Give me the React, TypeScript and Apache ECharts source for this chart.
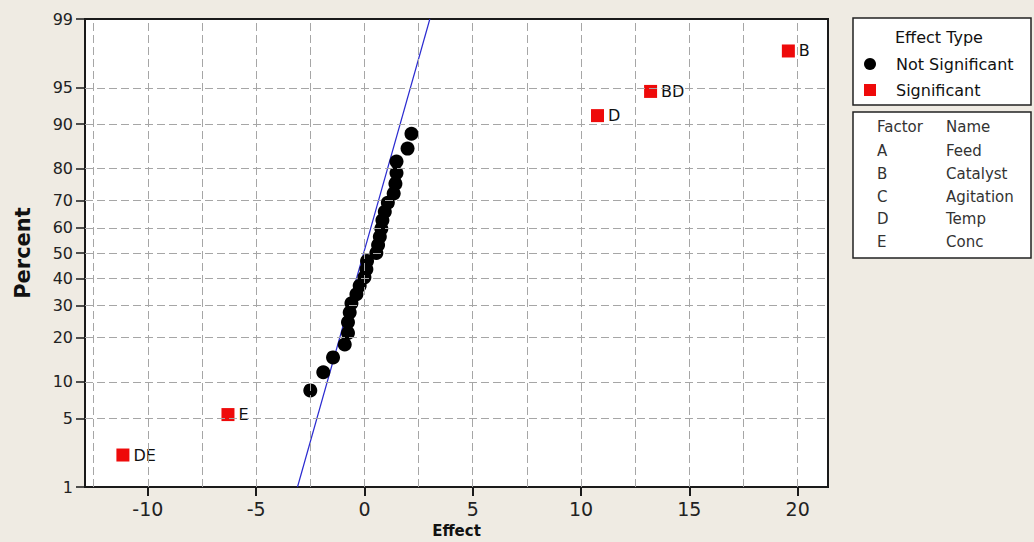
import React, { useEffect, useRef } from "react";
import * as echarts from "echarts";

// ---- data ----
const notSigEffects = [-2.5, -1.9, -1.45, -0.91, -0.76, -0.76, -0.68, -0.6, -0.37, -0.22, 0.0, 0.09, 0.12, 0.55, 0.63, 0.71, 0.78, 0.83, 0.94, 1.08, 1.35, 1.43, 1.48, 1.48, 1.99, 2.17];
const notSigPercents = [8.6, 11.78, 14.97, 18.15, 21.34, 24.52, 27.71, 30.89, 34.08, 37.26, 40.45, 43.63, 46.82, 50.0, 53.18, 56.37, 59.55, 62.74, 65.92, 69.11, 72.29, 75.48, 78.66, 81.85, 85.03, 88.22];
const sigNames = ["DE", "E", "D", "BD", "B"];
const sigEffects = [-11.15, -6.3, 10.76, 13.21, 19.57];
const sigPercents = [2.23, 5.41, 91.4, 94.59, 97.77];
const fitEffects = [-3.09, 3.02];
const fitPercents = [1, 99];
const xTicks = [-10, -5, 0, 5, 10, 15, 20];
const xGrid = [-12.5, -10, -7.5, -5, -2.5, 0, 2.5, 5, 7.5, 10, 12.5, 15, 17.5, 20];
const yTicks = [1, 5, 10, 20, 30, 40, 50, 60, 70, 80, 90, 95, 99];
const yGrid = [5, 10, 20, 30, 40, 50, 60, 70, 80, 90, 95];
const factorCodes = ["A", "B", "C", "D", "E"];
const factorNames = ["Feed", "Catalyst", "Agitation", "Temp", "Conc"];

// inverse normal CDF (probability scale)
function probit(p: number): number {
  const a = [-3.969683028665376e1, 2.209460984245205e2, -2.759285104469687e2, 1.38357751867269e2, -3.066479806614716e1, 2.506628277459239];
  const b = [-5.447609879822406e1, 1.615858368580409e2, -1.556989798598866e2, 6.680131188771972e1, -1.328068155288572e1];
  const c = [-7.784894002430293e-3, -3.223964580411365e-1, -2.400758277161838, -2.549732539343734, 4.374664141464968, 2.938163982698783];
  const d = [7.784695709041462e-3, 3.224671290700398e-1, 2.445134137142996, 3.754408661907416];
  const pl = 0.02425;
  if (p < pl) {
    const q = Math.sqrt(-2 * Math.log(p));
    return (((((c[0] * q + c[1]) * q + c[2]) * q + c[3]) * q + c[4]) * q + c[5]) / ((((d[0] * q + d[1]) * q + d[2]) * q + d[3]) * q + 1);
  }
  if (p <= 1 - pl) {
    const q = p - 0.5;
    const r = q * q;
    return ((((((a[0] * r + a[1]) * r + a[2]) * r + a[3]) * r + a[4]) * r + a[5]) * q) / (((((b[0] * r + b[1]) * r + b[2]) * r + b[3]) * r + b[4]) * r + 1);
  }
  const q = Math.sqrt(-2 * Math.log(1 - p));
  return -(((((c[0] * q + c[1]) * q + c[2]) * q + c[3]) * q + c[4]) * q + c[5]) / ((((d[0] * q + d[1]) * q + d[2]) * q + d[3]) * q + 1);
}
const pz = (pct: number) => probit(pct / 100);

const FONT = "DejaVu Sans";

export default function App() {
  const ref = useRef<HTMLDivElement>(null);
  useEffect(() => {
    if (!ref.current) return;
    const chart = echarts.init(ref.current, undefined, { renderer: "svg" });
    const yTickZ = yTicks.map(pz);
    const gridStyle = { color: "#a6a6a6", width: 1, type: [8, 4] as any };
    const legendTexts: any[] = [];
    legendTexts.push({ type: "text", x: 877, y: 127, style: { text: "Factor", font: `15px ${FONT}`, fill: "#333", verticalAlign: "middle" } });
    legendTexts.push({ type: "text", x: 946, y: 127, style: { text: "Name", font: `15px ${FONT}`, fill: "#333", verticalAlign: "middle" } });
    factorCodes.forEach((code, i) => {
      const yy = 151 + i * 22.8;
      legendTexts.push({ type: "text", x: 877, y: yy, style: { text: code, font: `15px ${FONT}`, fill: "#333", verticalAlign: "middle" } });
      legendTexts.push({ type: "text", x: 946, y: yy, style: { text: factorNames[i], font: `15px ${FONT}`, fill: "#333", verticalAlign: "middle" } });
    });
    chart.setOption({
      animation: false,
      backgroundColor: "#efebe3",
      grid: {
        left: 85,
        right: 206,
        top: 19,
        bottom: 55,
        show: true,
        backgroundColor: "#ffffff",
        borderColor: "#1a1a1a",
        borderWidth: 2,
        containLabel: false,
        outerBoundsMode: "none",
      },
      xAxis: {
        type: "value",
        min: -12.9,
        max: 21.4,
        name: "Effect",
        nameLocation: "middle",
        nameGap: 36,
        nameMoveOverlap: false,
        nameTextStyle: { fontFamily: FONT, fontSize: 15, fontWeight: "bold", color: "#111" },
        axisLine: { show: true, onZero: false, lineStyle: { color: "#1a1a1a", width: 2 } },
        axisTick: { show: true, length: 9, customValues: xTicks, lineStyle: { color: "#1a1a1a", width: 2 } },
        axisLabel: { customValues: xTicks, margin: 12, fontFamily: FONT, fontSize: 19, color: "#222" },
        splitLine: { show: false },
      },
      yAxis: {
        type: "value",
        min: pz(1),
        max: pz(99),
        name: "Percent",
        nameLocation: "middle",
        nameRotate: 90,
        nameGap: 52,
        nameMoveOverlap: false,
        nameTextStyle: { fontFamily: FONT, fontSize: 21, fontWeight: "bold", color: "#111" },
        axisLine: { show: true, onZero: false, lineStyle: { color: "#1a1a1a", width: 2 } },
        axisTick: { show: true, length: 9, customValues: yTickZ, lineStyle: { color: "#1a1a1a", width: 1.5 } },
        axisLabel: {
          customValues: yTickZ,
          margin: 12,
          fontFamily: FONT,
          fontSize: 16,
          color: "#222",
          formatter: (v: number) => {
            let best = 0;
            let bd = Infinity;
            yTickZ.forEach((z, i) => {
              const dd = Math.abs(z - v);
              if (dd < bd) { bd = dd; best = i; }
            });
            return String(yTicks[best]);
          },
        },
        splitLine: { show: false },
      },
      series: [
        {
          type: "line",
          name: "fit",
          data: fitEffects.map((x, i) => [x, pz(fitPercents[i])]),
          symbol: "none",
          z: 2,
          lineStyle: { color: "#2a2ad0", width: 1.2 },
          markLine: {
            silent: true,
            symbol: "none",
            label: { show: false },
            lineStyle: gridStyle,
            data: [
              ...xGrid.map((v) => ({ xAxis: v })),
              ...yGrid.map((p) => ({ yAxis: pz(p) })),
            ],
          },
        },
        {
          type: "scatter",
          name: "Not Significant",
          data: notSigEffects.map((x, i) => [x, pz(notSigPercents[i])]),
          symbol: "circle",
          symbolSize: 14,
          z: 3,
          itemStyle: { color: "#000000", opacity: 1 },
        },
        {
          type: "scatter",
          name: "Significant",
          data: sigEffects.map((x, i) => ({ name: sigNames[i], value: [x, pz(sigPercents[i])] })),
          symbol: "rect",
          symbolSize: 13,
          z: 4,
          itemStyle: { color: "#ee0a0a", opacity: 1 },
          label: {
            show: true,
            position: "right",
            distance: 4,
            formatter: "{b}",
            fontFamily: FONT,
            fontSize: 16,
            color: "#111",
          },
        },
      ],
      graphic: [
        { type: "rect", shape: { x: 853, y: 18, width: 178, height: 87 }, style: { fill: "#fff", stroke: "#222", lineWidth: 1.5 } },
        { type: "text", x: 895, y: 37, style: { text: "Effect Type", font: `16px ${FONT}`, fill: "#111", verticalAlign: "middle" } },
        { type: "circle", shape: { cx: 870, cy: 64, r: 6 }, style: { fill: "#000" } },
        { type: "text", x: 896, y: 64, style: { text: "Not Significant", font: `16px ${FONT}`, fill: "#111", verticalAlign: "middle" } },
        { type: "rect", shape: { x: 864, y: 84, width: 12, height: 12 }, style: { fill: "#ee0a0a" } },
        { type: "text", x: 896, y: 90, style: { text: "Significant", font: `16px ${FONT}`, fill: "#111", verticalAlign: "middle" } },
        { type: "rect", shape: { x: 853, y: 112, width: 178, height: 146 }, style: { fill: "#fff", stroke: "#222", lineWidth: 1.5 } },
        ...legendTexts,
      ],
    });
    return () => chart.dispose();
  }, []);
  return (
    <div
      ref={ref}
      style={{ position: "fixed", left: 0, top: 0, width: 1034, height: 542, background: "#efebe3" }}
    />
  );
}
